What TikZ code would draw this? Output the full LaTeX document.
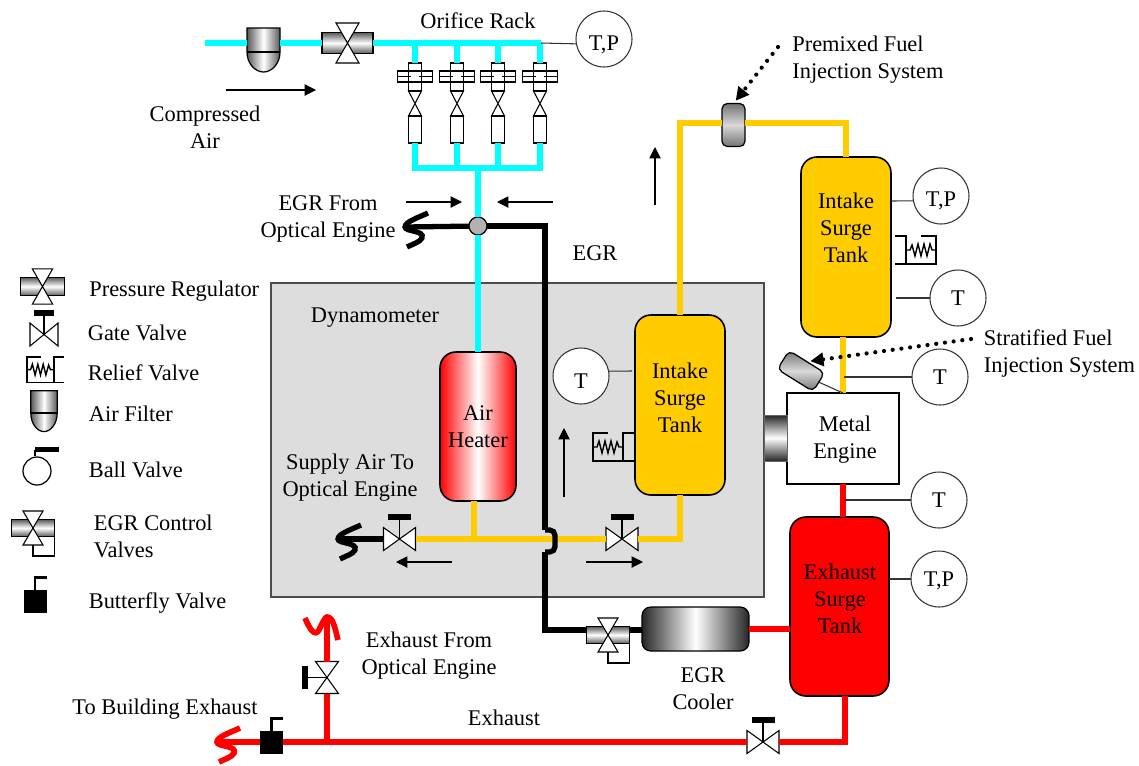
\documentclass[tikz,border=0pt]{standalone}
\usepackage{fontspec}
\setmainfont{Liberation Serif}
\usetikzlibrary{arrows.meta}
\definecolor{fuelyellow}{HTML}{FFCC00}
\definecolor{boxgray}{HTML}{DDDDDD}
\definecolor{aircyan}{HTML}{00FFFF}
\begin{document}
\begin{tikzpicture}[
    x=0.02cm, y=-0.02cm,
    font=\fontsize{12.75}{15.4}\selectfont
]
\tikzset{
    airline/.style = {line width=3.2pt, aircyan},
    fuelline/.style = {line width=3.2pt, fuelyellow},
    egrline/.style = {line width=3pt, black},
    exhline/.style = {line width=3.2pt, red},
    thinline/.style = {line width=.6pt, black!80},
    flowarrow/.style = {line width=.6pt, -{Triangle[length=6.5pt,width=6.5pt]}},
    dotarrow/.style = {line width=2.4pt, line cap=round, dash pattern=on 0pt off 5pt, -{Triangle[length=7.5pt,width=7.5pt]}, shorten >=2pt},
    tank/.style = {draw=black, line width=.9pt, rounded corners=9pt, align=center, inner sep=0pt, outer sep=0pt, minimum width=1.8cm, minimum height=3.6cm, fill=fuelyellow},
    gauge/.style = {circle, draw=black!80, line width=.6pt, fill=white, inner sep=0pt, outer sep=0pt, minimum size=1.12cm, text depth=0pt},
    injector/.style = {draw=black, line width=.7pt, rounded corners=3pt, inner sep=0pt, outer sep=0pt, top color=black!55, bottom color=black!55, middle color=black!15},
    label/.style = {align=center, inner sep=0pt},
    leftlabel/.style = {align=left, inner sep=0pt, anchor=west},
    bodyshade/.style = {top color=black!65, bottom color=black!65, middle color=white},
    sideshade/.style = {left color=black!65, right color=black!65, middle color=white},
    gatevalve/.pic = {
        \draw[line width=.6pt, fill=white] (-16,-11.5) -- (16,11.5) -- (16,-11.5) -- (-16,11.5) -- cycle;
        \draw[line width=.6pt] (0,0) -- (0,-20);
        \fill (-11.5,-25) rectangle (11.5,-19);
        \coordinate (-l) at (-16,0);
        \coordinate (-r) at (16,0);
    },
    regulator/.pic = {
        \draw[line width=.6pt, bodyshade] (-25.5,-10.5) rectangle (25.5,10.5);
        \draw[line width=.6pt, fill=white] (-11.5,-20) -- (11.5,-20) -- (-11.5,20) -- (11.5,20) -- cycle;
        \coordinate (-l) at (-25.5,0);
        \coordinate (-r) at (25.5,0);
    },
    egrvalve/.pic = {
        \draw[line width=.6pt] (21.5,8.5) -- (21.5,28) -- (0,28) -- (0,17);
        \draw[line width=.6pt, bodyshade] (-21.5,-8.5) rectangle (21.5,8.5);
        \draw[line width=.6pt, fill=white] (-10,-17) -- (10,-17) -- (-10,17) -- (10,17) -- cycle;
        \coordinate (-l) at (-21.5,-5);
        \coordinate (-r) at (21.5,-5);
    },
    airfilter/.pic = {
        \draw[line width=.7pt, sideshade] (-16.5,-24) -- (16.5,-24) -- (16.5,0) .. controls (16.5,12) and (8,20) .. (0,20) .. controls (-8,20) and (-16.5,12) .. (-16.5,0) -- cycle;
        \draw[line width=.7pt] (-16.5,0) -- (16.5,0);
        \coordinate (-l) at (-16.5,-9);
        \coordinate (-r) at (16.5,-9);
    },
    butterfly/.pic = {
        \fill (-11.5,-11.5) rectangle (11.5,11.5);
        \draw[line width=1.7pt] (0,-11.5) -- (0,-24) -- (11.5,-24);
        \coordinate (-l) at (-11.5,0);
        \coordinate (-r) at (11.5,0);
    },
    orifice/.pic = {
        \draw[line width=.6pt] (-17.5,8) rectangle (17.5,19);
        \draw[line width=.6pt] (-17.5,13.5) -- (-4,13.5);
        \draw[line width=.6pt] (4,13.5) -- (17.5,13.5);
        \draw[line width=.6pt] (-6.5,0) rectangle (6.5,28);
        \draw[line width=.6pt] (-6.5,28) -- (6.5,53) -- (-6.5,53) -- (6.5,28) -- cycle;
        \draw[line width=.6pt] (-6.5,53) rectangle (6.5,80);
        \coordinate (-t) at (0,0);
        \coordinate (-b) at (0,80);
    },
    relief/.pic = {
        \draw[line width=.6pt] (15,0) -- (0,0) -- (0,28) -- (41,28);
        \draw[line width=.6pt] (41,0) -- (30,0) -- (30,28);
        \draw[line width=.8pt] (0,14) -- (4,14) -- (6,8) -- (9,20) -- (12,8) -- (15,20) -- (18,8) -- (21,20) -- (24,9) -- (26,14) -- (30,14);
    },
    squiggle/.pic = {
        \draw (23,-14) .. controls (12,-9) and (0,-5) .. (0,0) .. controls (0,5) and (20,3) .. (17,11) .. controls (15,15) and (8,17) .. (2,20);
        \coordinate (-tip) at (0,0);
    }
}
\fill[boxgray, draw=black!70, line width=.8pt] (271,283) rectangle (764,597);

\node[tank] (tank2) at (846,247) {};
\node[tank] (tank1) at (680,405) {};
\node[tank, fill=red, minimum width=1.98cm, minimum height=3.58cm] (exh) at (839.5,606.5) {};
\node[tank, left color=red, right color=red, middle color=white, minimum width=1.52cm, minimum height=2.98cm] (heater) at (478,426.5) {};
\node[draw=black, line width=.7pt, fill=white, inner sep=0pt, outer sep=0pt, minimum width=2.24cm, minimum height=1.82cm] (eng) at (843,438.5) {};
\node[draw=black!60, line width=.5pt, top color=black!85, bottom color=black!85, middle color=white, inner sep=0pt, outer sep=0pt, minimum width=.46cm, minimum height=.92cm] (shaft) at (775.5,438) {};
\node[draw=black, line width=.7pt, rounded corners=5pt, inner sep=0pt, outer sep=0pt, left color=black!85, right color=black!85, middle color=white, minimum width=2.14cm, minimum height=.88cm] (cool) at (695.5,629) {};
\node[injector, minimum width=.46cm, minimum height=.86cm] (pinj) at (733.5,125) {};
\node[injector, rotate=-32, minimum width=.84cm, minimum height=.44cm] (sinj) at (801,371) {};
\node[circle, draw=black, line width=.7pt, fill=black!30, inner sep=0pt, outer sep=0pt, minimum size=.36cm] (mix) at (478,226) {};

\pic (filt) at (263.5,52) {airfilter};
\pic (reg) at (347.5,43) {regulator};
\pic (o1) at (415,63) {orifice};
\pic (o2) at (457,63) {orifice};
\pic (o3) at (498,63) {orifice};
\pic (o4) at (540,63) {orifice};
\pic (lv) at (399.5,539) {gatevalve};
\pic (rv) at (622,539) {gatevalve};
\pic (xv) at (763,742) {gatevalve};
\pic[rotate=90] (vv) at (327,677.5) {gatevalve};
\pic (bf) at (271.5,742) {butterfly};
\pic (egrv) at (608,635) {egrvalve};
\pic[egrline] (s1) at (405,227) {squiggle};
\pic[egrline] (s2) at (338,539) {squiggle};
\pic[exhline] (s3) at (217,742) {squiggle};

\coordinate (a0) at (205,43);
\coordinate (a1) at (415,43);
\coordinate (a2) at (457,43);
\coordinate (a3) at (498,43);
\coordinate (a4) at (541,43);
\coordinate (b1) at (415,168);
\coordinate (b2) at (457,168);
\coordinate (b3) at (498,168);
\coordinate (b4) at (540,168);
\coordinate (b5) at (478,168);
\draw[airline] (a0) -- (filt-l);
\draw[airline] (filt-r) -- (reg-l);
\draw[airline] (reg-r) -- (a4);
\draw[airline] (a1) -- (o1-t);
\draw[airline] (a2) -- (o2-t);
\draw[airline] (a3) -- (o3-t);
\draw[airline] (a4 -| o4-t) -- (o4-t);
\draw[airline] (o1-b) -- (b1) -- (b4) -- (o4-b);
\draw[airline] (o2-b) -- (b2);
\draw[airline] (o3-b) -- (b3);
\draw[airline] (b5) -- (mix);
\draw[airline] (mix) -- (heater.north);

\coordinate (f1) at (680,123);
\coordinate (f2) at (846,123);
\coordinate (f3) at (474,539);
\coordinate (f4) at (680,539);
\draw[fuelline] (tank1.north) -- (f1) -- (pinj.west |- f1);
\draw[fuelline] (pinj.east |- f2) -- (f2) -- (tank2.north);
\draw[fuelline] (eng.north) -- (eng.north |- tank2.south);
\draw[fuelline] (f3 |- heater.south) -- (f3);
\draw[fuelline] (lv-r) -- (rv-l);
\draw[fuelline] (rv-r) -- (f4) -- (tank1.south);

\coordinate (e1) at (545,226);
\coordinate (e2) at (545,530);
\coordinate (e3) at (555,530);
\coordinate (e4) at (555,552);
\coordinate (e5) at (545,552);
\coordinate (e6) at (545,630);
\draw[egrline] (s1-tip) -- (mix);
\draw[egrline] (mix) -- (e1) -- (e2);
\draw[egrline, rounded corners=3pt] (e2) -- (e3) -- (e4) -- (e5);
\draw[egrline] (e5) -- (e6) -- (egrv-l);
\draw[egrline] (egrv-r) -- (egrv-r -| cool.west);
\draw[egrline] (s2-tip) -- (lv-l);

\coordinate (x1) at (845,742);
\coordinate (x2) at (327,742);
\coordinate (x3) at (327,617);
\draw[exhline] (eng.south) -- (eng.south |- exh.north);
\draw[exhline] (cool.east) -- (cool.east -| exh.west);
\draw[exhline] (x1 |- exh.south) -- (x1) -- (xv-r);
\draw[exhline] (xv-l) -- (bf-r);
\draw[exhline] (bf-l) -- (s3-tip);
\draw[exhline] (x2) -- (vv-l);
\draw[exhline] (vv-r) -- (x3);
\draw[exhline] (305,618) .. controls (310,630) and (315,637) .. (319,630) .. controls (323,622) and (325,617) .. (x3) .. controls (333,617) and (335,628) .. (338,640);

\node[gauge] (g1) at (604,39) {\raisebox{-5pt}{T,P}};
\node[gauge] (g2) at (941,196) {\raisebox{-3.5pt}{T,P}};
\node[gauge] (g3) at (958,298) {T};
\node[gauge] (g4) at (940,377) {T};
\node[gauge] (g5) at (939,500) {T};
\node[gauge] (g6) at (939,579) {T,P};
\node[gauge] (g7) at (581,376) {\raisebox{-5.5pt}{T}};
\coordinate (w2) at (891,201);
\coordinate (w3) at (896,298);
\coordinate (w4) at (844,377);
\coordinate (w5) at (844,500);
\coordinate (w6) at (889,579);
\coordinate (w7) at (632,371);
\draw[thinline] (a4) -- (g1.190);
\draw[thinline] (w2) -- (g2.190);
\draw[thinline] (w3) -- (g3.west);
\draw[thinline] (w4) -- (g4.west);
\draw[thinline] (w5) -- (g5.west);
\draw[thinline] (w6) -- (g6.west);
\draw[thinline] (w7) -- (g7.10);
\draw[thinline] (sinj.east) -- (eng.north);

\pic (rel1) at (593,433) {relief};
\pic[xscale=-1] (rel2) at (936,236) {relief};

\coordinate (d1) at (778,47);
\coordinate (d2) at (971,339);
\draw[dotarrow] (d1) -- (pinj.north);
\draw[dotarrow] (d2) -- (sinj.north);

\coordinate (c1) at (226,90);
\coordinate (c2) at (316,90);
\coordinate (c3) at (406,202);
\coordinate (c4) at (462,202);
\coordinate (c5) at (553,202);
\coordinate (c6) at (497,202);
\coordinate (c7) at (655,205);
\coordinate (c8) at (655,147);
\coordinate (c9) at (564,497);
\coordinate (c10) at (564,428);
\coordinate (c11) at (452,562);
\coordinate (c12) at (396,562);
\coordinate (c13) at (586,562);
\coordinate (c14) at (643,562);
\draw[flowarrow] (c1) -- (c2);
\draw[flowarrow] (c3) -- (c4);
\draw[flowarrow] (c5) -- (c6);
\draw[flowarrow] (c7) -- (c8);
\draw[flowarrow] (c9) -- (c10);
\draw[flowarrow] (c11) -- (c12);
\draw[flowarrow] (c13) -- (c14);

\pic[scale=.88] (lreg) at (42.5,286.5) {regulator};
\pic[xscale=.875] (lgate) at (44,334.5) {gatevalve};
\pic[scale=.9] (lrel) at (27,357) {relief};
\pic[xscale=.8, yscale=.93] (lfilt) at (44,413) {airfilter};
\node[circle, draw=black, line width=.7pt, inner sep=0pt, minimum size=.56cm] (lball) at (37,471) {};
\draw[line width=1.7pt] (lball.north -| 35,0) -- (35,449.5);
\fill (35,447) rectangle (59,452);
\pic (legr) at (33,528) {egrvalve};
\pic (lbf) at (35,601.5) {butterfly};

\node[label] (t1) at (478,21) {Orifice Rack};
\node[label] (t2) at (205,127.5) {Compressed\\Air};
\node[label] (t3) at (328,219) {EGR From\\Optical Engine};
\node[label] (t4) at (595,253) {EGR};
\node[label] (t5) at (375,318) {Dynamometer};
\node[label] (t6) at (350,477.5) {Supply Air To\\Optical Engine};
\node[leftlabel] (t7) at (792,59.5) {Premixed Fuel\\Injection System};
\node[leftlabel] (t8) at (983.5,353.5) {Stratified Fuel\\Injection System};
\node[label] (t9) at (429,655.5) {Exhaust From\\Optical Engine};
\node[label] (t10) at (703,688.5) {EGR\\Cooler};
\node[label] (t11) at (165,709) {To Building Exhaust};
\node[label] (t12) at (504,718) {Exhaust};
\node[label] (t13) at (846,228) {Intake\\Surge\\Tank};
\node[label] (t14) at (680,398) {Intake\\Surge\\Tank};
\node[label] (t15) at (840,599) {Exhaust\\Surge\\Tank};
\node[label] (t16) at (478,426.5) {Air\\Heater};
\node[label] (t17) at (845,439.5) {Metal\\Engine};
\node[leftlabel] (l1) at (89,291) {Pressure Regulator};
\node[leftlabel] (l2) at (87.5,333) {Gate Valve};
\node[leftlabel] (l3) at (87.5,373) {Relief Valve};
\node[leftlabel] (l4) at (88.5,414) {Air Filter};
\node[leftlabel] (l5) at (88.5,470) {Ball Valve};
\node[leftlabel] (l6) at (93.5,536.5) {EGR Control\\Valves};
\node[leftlabel] (l7) at (88.5,603) {Butterfly Valve};
\useasboundingbox (0,0) rectangle (1139,765);
\end{tikzpicture}
\end{document}
